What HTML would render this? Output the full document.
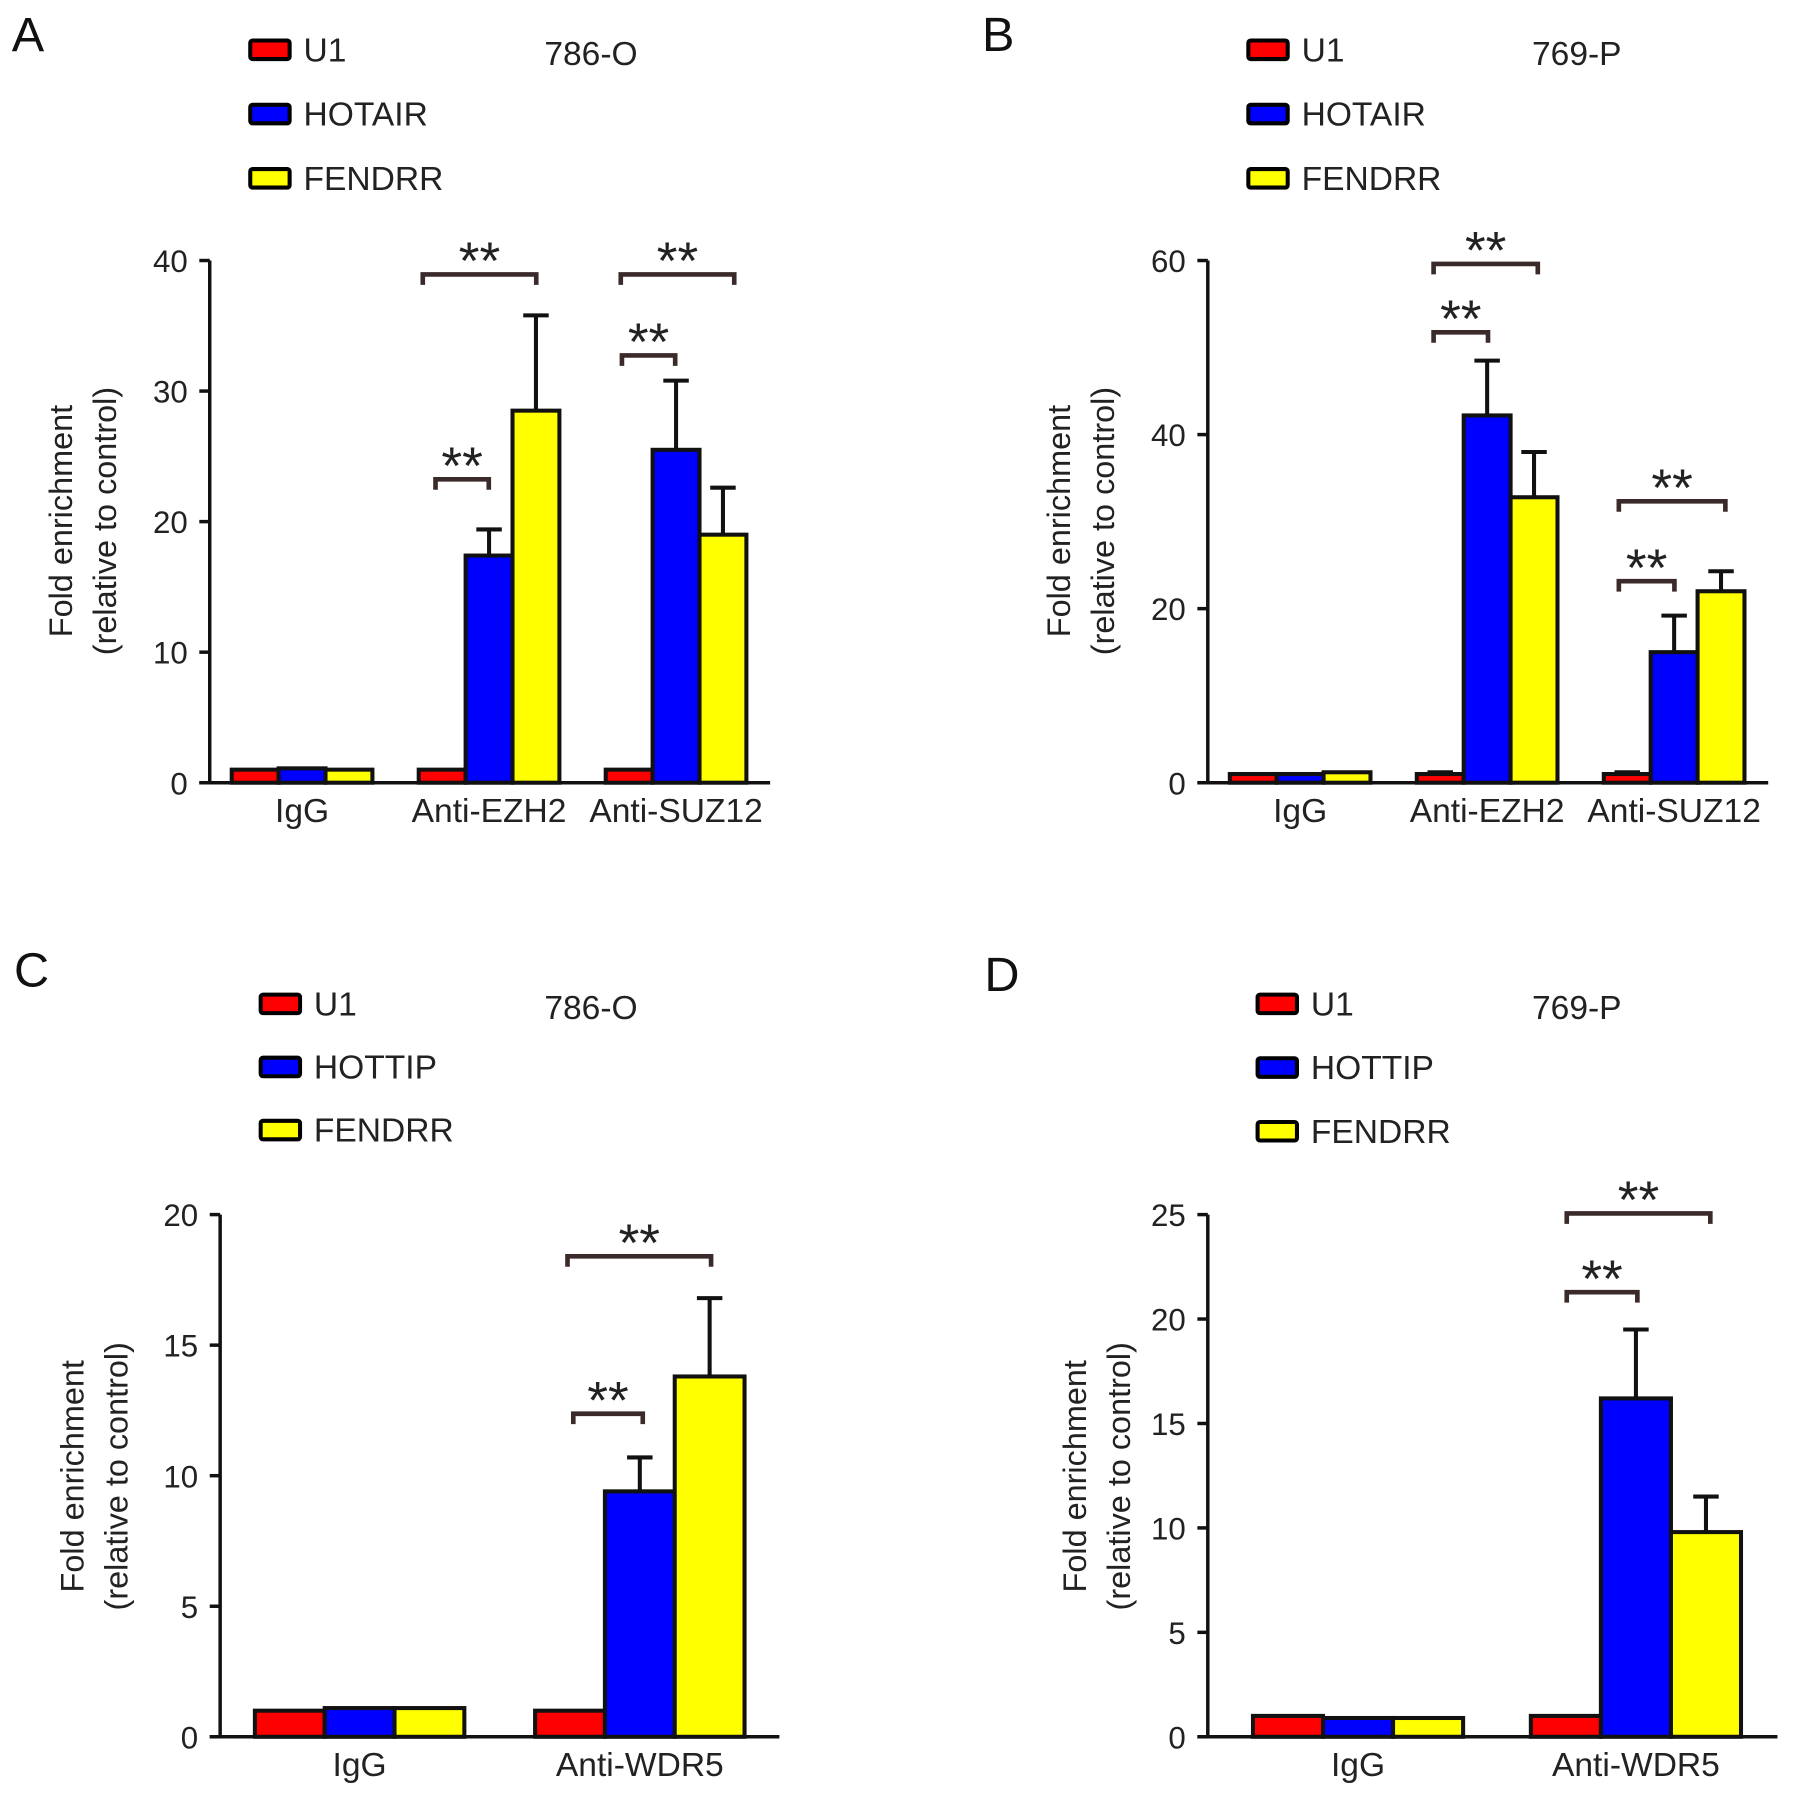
<!DOCTYPE html>
<html><head><meta charset="utf-8">
<style>
html,body{margin:0;padding:0;background:#fff;}
svg{display:block;font-family:"Liberation Sans",Arial,sans-serif;}
</style></head>
<body>
<svg id="fig" width="1795" height="1819" viewBox="0 0 1550 1571" xmlns="http://www.w3.org/2000/svg"></svg>
<script>
// ---- data ----
const seriesNamesAB = ["U1","HOTAIR","FENDRR"];
const seriesNamesCD = ["U1","HOTTIP","FENDRR"];
const categoriesAB = ["IgG","Anti-EZH2","Anti-SUZ12"];
const categoriesCD = ["IgG","Anti-WDR5"];
const valuesA = [[1,1.1,1],[1,17.4,28.5],[1,25.5,19]];
const errorsA = [[1.1,1.2,1.1],[1.1,19.4,35.8],[1.1,30.8,22.6]];
const valuesB = [[1,1,1.2],[1,42.2,32.8],[1,15,22]];
const errorsB = [[1.1,1.1,1.3],[1.2,48.5,38],[1.2,19.2,24.3]];
const valuesC = [[1,1.1,1.1],[1,9.4,13.8]];
const errorsC = [[1.05,1.25,1.25],[1.1,10.7,16.8]];
const valuesD = [[1,0.9,0.9],[1,16.2,9.8]];
const errorsD = [[1.1,1.0,1.0],[1.1,19.5,11.5]];
const ticksA = [0,10,20,30,40];
const ticksB = [0,20,40,60];
const ticksC = [0,5,10,15,20];
const ticksD = [0,5,10,15,20,25];
const colors = ["#ff0000","#0000ff","#ffff00"];

const NS="http://www.w3.org/2000/svg";
const svg=document.getElementById('fig');
function mk(tag,attrs,parent){const e=document.createElementNS(NS,tag);for(const k in attrs)e.setAttribute(k,attrs[k]);(parent||svg).appendChild(e);return e;}
function txt(s,attrs,parent){const e=mk('text',attrs,parent);e.textContent=s;return e;}

function panel(cfg){
  const g=mk('g',{});
  
  
  const ymax=cfg.ticks[cfg.ticks.length-1];
  const y=v=>cfg.y0-(v/ymax)*(cfg.y0-cfg.yTop);
  const L=txt(cfg.letter,{x:cfg.lx,y:cfg.ly,'font-size':42,fill:'#111'},g);
  
  
  cfg.series.forEach((s,i)=>{
    const ly=cfg.legY+i*cfg.legStep;
    const r=mk('rect',{x:cfg.legX,y:ly-7,width:34,height:16,fill:colors[i],stroke:'#000','stroke-width':3.5,rx:2},g);
    
    
    const t=txt(s,{x:cfg.legX+46,y:ly+11,'font-size':29,fill:'#222'},g);
    
    
  });
  const cl=txt(cfg.cell,{x:cfg.cellX,y:cfg.legY+14,'font-size':29,fill:'#222'},g);
  
  
  const yt=mk('g',{transform:`translate(${cfg.ytX},${cfg.ytY}) rotate(-90)`},g);
  
  
  txt('Fold enrichment',{x:0,y:0,'text-anchor':'middle','font-size':28,fill:'#222'},yt);
  txt('(relative to control)',{x:0,y:38,'text-anchor':'middle','font-size':28,fill:'#222'},yt);
  const ya=mk('line',{x1:cfg.ax,y1:cfg.yTop,x2:cfg.ax,y2:cfg.y0,stroke:'#111','stroke-width':3},g);
  
  
  cfg.ticks.forEach(t=>{
    const tl=mk('line',{x1:cfg.ax-9,y1:y(t),x2:cfg.ax,y2:y(t),stroke:'#111','stroke-width':3},g);
    
    
    const tt=txt(String(t),{x:cfg.ax-19,y:y(t)+10,'text-anchor':'end','font-size':27,fill:'#222'},g);
    
    
  });
  cfg.cats.forEach((c,ci)=>{
    const gx=cfg.g0+ci*cfg.gStep;
    cfg.vals[ci].forEach((v,si)=>{
      const bx=gx+si*cfg.bw;
      const top=cfg.errs[ci][si];
      if(top>v+0.15){
        const eb=mk('path',{d:`M${bx+cfg.bw/2},${y(v)} V${y(top)} M${bx+cfg.bw/2-11},${y(top)} H${bx+cfg.bw/2+11}`,stroke:'#111','stroke-width':3.5,fill:'none'},g);
        
        
      }
      const b=mk('rect',{x:bx,y:y(v),width:cfg.bw,height:cfg.y0-y(v),fill:colors[si],stroke:'#111','stroke-width':3.5},g);
      
      
    });
    const cx=gx+1.5*cfg.bw;
    const cl2=txt(c,{x:cx,y:cfg.y0+34,'text-anchor':'middle','font-size':29,fill:'#222'},g);
    
    
  });
  const xa=mk('line',{x1:cfg.ax-9,y1:cfg.y0,x2:cfg.axEnd,y2:cfg.y0,stroke:'#111','stroke-width':3},g);
  
  
  cfg.brackets.forEach(b=>{
    const p=mk('path',{d:`M${b[0]},${b[2]+9} V${b[2]} H${b[1]} V${b[2]+9}`,stroke:'#3a2a2a','stroke-width':4,fill:'none'},g);
    
    
    const s=txt('**',{x:(b[0]+b[1])/2,y:b[2]+4,'text-anchor':'middle','font-size':46,fill:'#222'},g);
    
    
  });
}

panel({letter:'A',lx:10,ly:44,series:seriesNamesAB,legX:216,legY:42,legStep:55.5,cell:'786-O',cellX:470,
  ytX:62,ytY:450,ax:181,axEnd:665,yTop:225,y0:676,ticks:ticksA,cats:categoriesAB,vals:valuesA,errs:errorsA,
  g0:200,gStep:161.5,bw:40.5,brackets:[[365,463,237],[376,422,414],[536,634,237],[537,583,307]]});
panel({letter:'B',lx:848,ly:44,series:seriesNamesAB,legX:1078,legY:42,legStep:55.5,cell:'769-P',cellX:1323,
  ytX:924,ytY:450,ax:1043,axEnd:1527,yTop:225,y0:676,ticks:ticksB,cats:categoriesAB,vals:valuesB,errs:errorsB,
  g0:1062,gStep:161.5,bw:40.5,brackets:[[1238,1328,228],[1238,1285,287],[1398,1490,433],[1398,1446,502]]});
panel({letter:'C',lx:12,ly:852,series:seriesNamesCD,legX:225,legY:866,legStep:54.5,cell:'786-O',cellX:470,
  ytX:72,ytY:1275,ax:190,axEnd:673,yTop:1049,y0:1500,ticks:ticksC,cats:categoriesCD,vals:valuesC,errs:errorsC,
  g0:220,gStep:242,bw:60.3,brackets:[[490,614,1085],[495,555,1221]]});
panel({letter:'D',lx:850,ly:856,series:seriesNamesCD,legX:1086,legY:866,legStep:55,cell:'769-P',cellX:1323,
  ytX:938,ytY:1275,ax:1043,axEnd:1535,yTop:1049,y0:1500,ticks:ticksD,cats:categoriesCD,vals:valuesD,errs:errorsD,
  g0:1082,gStep:240,bw:60.5,brackets:[[1353,1477,1048],[1353,1414,1116]]});
</script>
</body></html>
